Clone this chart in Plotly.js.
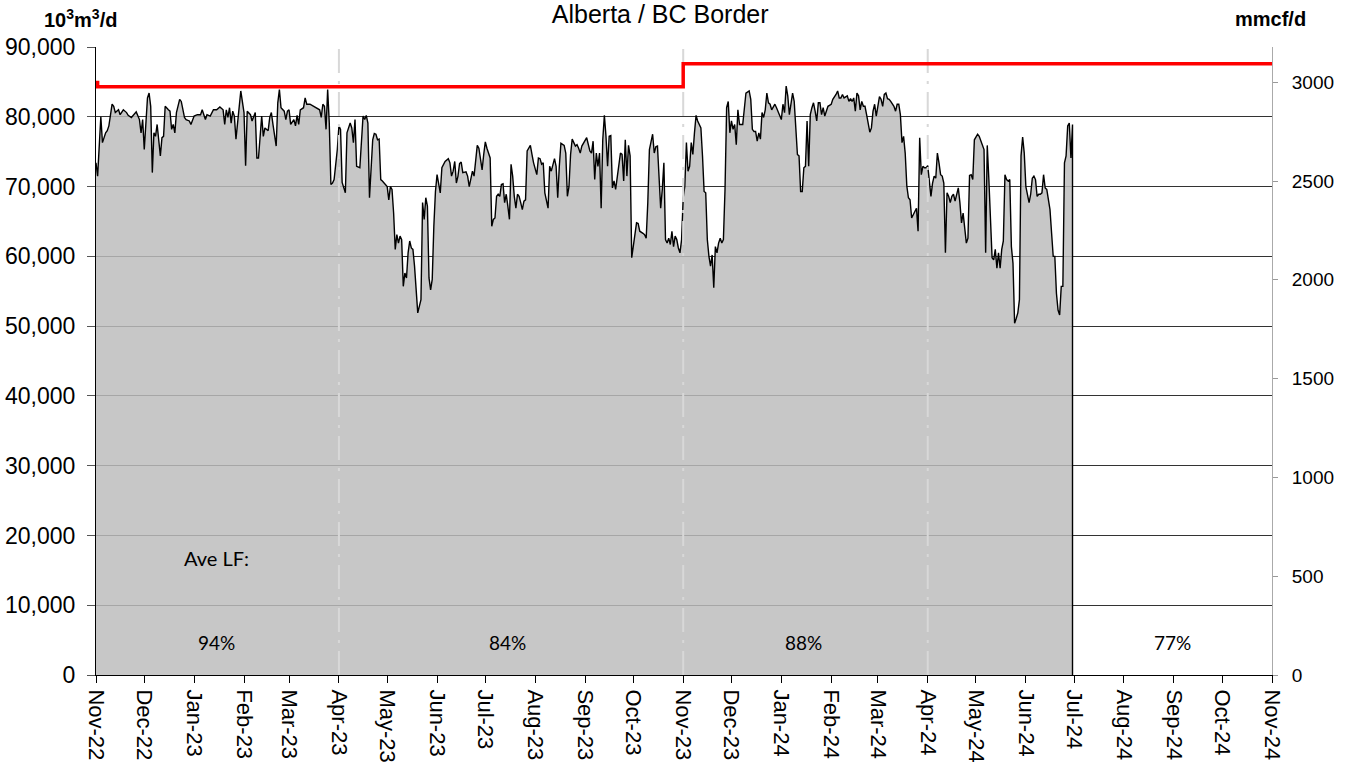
<!DOCTYPE html>
<html>
<head>
<meta charset="utf-8">
<script src="https://cdn.plot.ly/plotly-3.0.1.min.js"></script>
<style>html,body{margin:0;padding:0;background:#fff;}#chart{width:1350px;height:767px;}</style>
</head>
<body>
<div id="chart"></div>
<script>
// Day offsets from 2022-11-01 and daily flow (thousand 10^3m3/d)
const startDate = '2022-11-01';
const flowDays = [
0,1,3,4,6,7,8,10,11,12,14,15,17,19,20,22,25,27,28,29,30,32,33,34,35,36,37,38,40,41,42,43,45,46,47,48,49,50,52,53,55,56,58,59,61,63,65,66,68,69,71,73,75,77,79,80,81,82,83,84,85,86,87,89,90,92,93,94,96,97,99,100,101,103,104,105,107,108,109,110,112,113,114,115,117,118,119,120,121,123,124,125,126,127,129,130,131,133,135,137,139,140,141,142,143,144,145,146,147,148,150,151,152,153,155,156,158,
159,160,161,162,164,166,167,168,169,170,172,173,174,175,176,177,178,180,181,182,183,184,185,186,187,188,189,190,191,192,193,194,195,196,197,198,199,200,202,203,204,205,206,207,208,209,210,211,212,213,214,215,216,217,219,220,221,222,223,224,225,226,227,228,230,231,232,233,234,235,237,238,240,241,242,243,245,246,247,248,249,250,251,252,253,254,255,256,257,258,259,260,261,262,263,264,265,266,267,268,270,271,272,274,275,276,277,278,279,281,282,283,284,285,286,287,288,289,291,292,293,294,295,296,298,299,300,301,302,304,305,307,
308,309,310,311,312,313,314,315,316,317,318,319,320,321,322,323,325,326,327,328,329,330,331,332,333,335,336,337,338,340,341,342,343,344,346,347,348,349,350,351,352,353,354,355,356,357,358,359,360,361,362,363,364,365,366,367,368,369,370,371,372,373,374,376,377,378,379,380,381,382,383,384,385,386,387,388,389,390,391,392,393,394,395,396,397,398,399,400,402,403,404,406,407,408,409,410,411,412,413,414,415,416,417,418,419,420,422,423,424,426,427,428,429,430,431,432,433,434,435,436,437,438,439,440,441,442,443,444,445,446,447,448,449,450,451,452,453,454,455,457,458,460,461,462,
463,464,465,467,468,469,470,471,472,473,474,475,476,477,478,479,480,481,482,483,484,485,486,487,488,489,490,491,492,493,494,496,497,498,499,500,501,502,503,504,505,506,507,508,509,510,511,512,513,514,515,516,517,518,519,520,521,522,523,524,525,526,527,528,529,530,531,532,533,534,535,536,537,538,539,540,541,542,543,544,545,546,547,548,549,550,551,552,553,554,555,556,557,558,559,560,561,562,563,564,565,566,567,568,569,570,571,572,573,574,575,576,577,578,579,580,581,582,583,584,585,586,587,588,589,590,591,592,593,594,595,596,597,598,599,600,601,602,603,604,605,606,607
];
const flowThousands = [
73.4,71.5,80.0,76.3,77.7,78.0,78.7,81.8,81.5,80.6,81.0,80.3,81.0,80.6,80.2,79.9,80.7,79.6,77.7,79.6,75.3,82.7,83.4,81.5,72.0,77.7,77.2,78.9,74.4,77.0,77.2,81.5,81.0,80.8,78.2,78.9,77.7,80.6,82.5,82.2,79.9,79.6,79.4,78.9,80.1,80.3,80.3,81.0,79.6,80.3,80.1,81.0,81.0,81.4,81.0,78.9,81.0,79.9,81.3,79.1,80.8,80.1,76.8,82.2,83.7,80.6,73.0,80.8,80.3,79.4,80.6,74.1,74.1,80.1,77.2,78.4,78.0,79.9,80.6,78.9,75.8,82.0,83.9,81.3,80.8,79.6,80.8,81.0,78.9,79.6,78.7,80.2,78.9,81.0,81.3,82.7,81.8,81.8,81.5,81.3,81.0,79.9,81.8,81.5,78.2,83.9,79.1,70.3,70.5,71.0,75.3,78.7,78.2,70.6,69.1,77.7,79.1,
78.4,76.3,79.6,72.9,72.7,80.1,79.6,80.2,79.1,68.4,76.7,77.6,77.5,76.7,76.8,71.0,70.8,70.3,70.0,68.1,70.0,69.6,66.2,61.0,63.1,61.9,62.9,62.4,55.7,57.6,56.9,60.5,62.2,61.2,61.0,58.6,54.7,51.9,53.8,67.7,65.3,68.4,67.2,56.9,55.2,56.7,64.3,69.3,71.7,70.5,69.1,72.7,73.2,73.6,74.0,73.4,71.5,72.2,73.6,70.5,71.5,73.3,73.5,72.0,72.1,71.5,70.0,71.2,72.2,71.5,75.9,75.5,72.4,74.6,76.4,75.5,74.1,64.3,65.3,65.5,68.6,68.9,68.6,70.3,70.4,67.7,68.9,67.2,65.3,73.2,71.5,68.6,66.9,68.9,68.6,67.7,66.7,67.9,68.1,75.1,75.9,74.6,73.4,71.7,74.1,74.0,73.2,73.4,69.1,66.9,72.9,72.2,73.2,74.0,72.9,68.4,72.9,76.2,75.9,74.8,68.6,70.0,74.6,76.8,75.8,76.0,75.5,74.8,75.8,76.5,77.0,75.1,
74.8,76.5,71.0,74.8,72.9,74.8,66.9,76.7,80.2,77.2,72.9,77.2,77.3,69.8,70.8,69.6,72.9,74.8,74.6,70.8,76.7,71.5,75.9,74.4,59.8,63.3,64.8,64.7,63.6,63.3,63.1,62.6,67.7,75.3,77.5,74.8,75.7,75.8,71.0,66.9,69.6,73.4,62.4,61.9,62.6,61.7,63.6,61.4,62.9,62.4,61.2,60.5,62.4,68.4,70.0,76.3,72.2,72.9,76.3,74.6,77.7,80.2,79.4,78.4,74.4,69.3,69.1,62.4,60.0,58.6,60.2,55.5,61.4,60.5,61.9,62.6,61.9,62.4,69.6,81.3,82.2,77.7,79.4,78.2,78.9,76.0,81.0,78.9,78.9,80.8,83.4,83.7,82.5,78.2,77.9,77.9,76.5,77.7,76.8,80.6,79.9,81.0,83.4,82.0,81.8,81.0,81.8,81.3,80.8,79.6,81.8,80.6,84.4,83.0,80.3,82.2,83.4,82.2,78.7,74.6,74.4,69.3,69.3,72.7,72.9,79.4,72.9,80.3,81.3,82.0,80.8,79.4,82.0,82.0,80.3,81.3,80.1,81.0,81.5,81.8,82.5,83.2,83.7,82.7,
82.7,83.2,82.7,83.0,82.2,82.6,82.2,82.7,80.8,83.4,83.0,81.0,82.2,81.5,81.5,80.3,78.7,77.8,78.4,80.8,81.8,80.1,81.5,82.9,82.5,81.5,83.2,83.4,82.6,82.5,82.2,81.5,80.8,81.8,81.8,80.3,76.3,77.2,74.8,70.1,68.4,68.1,65.5,66.0,66.5,66.9,63.6,77.0,71.7,72.9,72.7,72.7,73.0,71.0,68.6,70.5,71.5,71.2,74.8,73.4,71.7,71.5,70.5,60.5,69.1,68.6,67.7,68.6,68.9,67.9,68.9,69.8,67.7,64.8,66.2,64.3,61.9,62.6,71.6,71.7,71.0,76.7,77.2,77.5,77.2,76.5,75.9,75.3,60.5,75.9,71.0,63.8,59.8,59.5,61.0,58.3,60.5,58.3,61.0,62.2,71.7,71.0,70.8,71.0,61.4,59.0,50.4,51.1,51.9,53.8,74.4,77.1,74.8,70.0,68.6,67.7,68.9,71.2,71.5,71.0,68.6,68.9,68.9,69.1,71.7,69.8,69.6,68.4,66.7,63.3,60.0,60.0,54.7,52.3,51.6,55.7,55.7,73.4,74.4,78.7,79.1,74.1,78.9
];
// Capacity (10^3m3/d), step line
const capDates = ['2022-11-01','2022-11-02','2023-11-01','2024-11-01'];
const capValues = [84900, 84300, 87600, 87600];
// Season boundaries and average load factors
const seasonStarts = ['2023-04-01','2023-11-01','2024-04-01'];
const lfLabelDates = ['2023-01-15','2023-07-15','2024-01-15','2024-08-31'];
const lfValues = [94, 84, 88, 77];
const lfHeading = 'Ave LF:';
const xRange = ['2022-11-01','2024-11-01'];
const Y_MAX = 90000;
const M3_PER_MCF = 28.3168; // 10^3 m3 per mmcf

function dayToDate(d){
  const t = Date.UTC(2022,10,1) + d*86400000;
  return new Date(t).toISOString().slice(0,10);
}
const flowDates = flowDays.map(dayToDate);
const flowVals = flowThousands.map(v => v*1000);

const FONT = 'Liberation Sans, Arial, sans-serif';
const LFFONT = 'Lato, Open Sans, sans-serif';

const traces = [
  {
    x: flowDates.concat([flowDates[flowDates.length-1]]),
    y: flowVals.concat([0]),
    type: 'scatter', mode: 'lines',
    fill: 'tozeroy', fillcolor: 'rgba(188,188,188,0.84)',
    line: {color: '#000', width: 1.4},
    hoverinfo: 'skip', showlegend: false
  },
  {
    x: seasonStarts.flatMap(d => [d, d, null]),
    y: seasonStarts.flatMap(() => [0, Y_MAX, null]),
    type: 'scatter', mode: 'lines',
    line: {color: '#d8d8d8', width: 2, dash: '24px,8px,3px,8px'},
    hoverinfo: 'skip', showlegend: false
  },
  {
    x: capDates, y: capValues,
    type: 'scatter', mode: 'lines',
    line: {color: '#ff0000', width: 3.5, shape: 'hv'},
    hoverinfo: 'skip', showlegend: false
  },
  {
    x: capDates, y: capValues.map(v => v / M3_PER_MCF),
    yaxis: 'y2', type: 'scatter', mode: 'lines',
    line: {width: 0}, opacity: 0,
    hoverinfo: 'skip', showlegend: false
  }
];

const annotations = [
  {text: '<b>10<sup>3</sup>m<sup>3</sup>/d</b>', xref: 'paper', yref: 'paper', x: -0.0136, y: 1.046,
   xanchor: 'center', yanchor: 'middle', showarrow: false,
   font: {family: FONT, size: 20, color: '#000'}},
  {text: '<b>mmcf/d</b>', xref: 'paper', yref: 'paper', x: 0.999, y: 1.044,
   xanchor: 'center', yanchor: 'middle', showarrow: false,
   font: {family: FONT, size: 20, color: '#000'}},
  {text: lfHeading, xref: 'x', yref: 'y', x: lfLabelDates[0], y: 16700,
   xanchor: 'center', yanchor: 'middle', showarrow: false,
   font: {family: LFFONT, size: 20, color: '#000'}}
].concat(lfValues.map((v, i) => ({
  text: v + '%', xref: 'x', yref: 'y', x: lfLabelDates[i], y: 4600,
  xanchor: 'center', yanchor: 'middle', showarrow: false,
  font: {family: LFFONT, size: 19, color: '#000'}
})));

const layout = {
  width: 1350, height: 767,
  margin: {l: 96, r: 78, t: 47, b: 92, pad: 0},
  paper_bgcolor: '#fff', plot_bgcolor: '#fff',
  font: {family: FONT, color: '#000'},
  title: {text: 'Alberta / BC Border', font: {family: FONT, size: 25, color: '#000'},
          x: 0.489, xref: 'container', xanchor: 'center', y: 0.981, yref: 'container', yanchor: 'middle'},
  xaxis: {
    type: 'date', range: xRange, tick0: xRange[0], dtick: 'M1', tickformat: '%b-%y',
    tickangle: 90, ticks: 'outside', ticklen: 7, tickcolor: '#000', tickwidth: 1,
    showline: true, linecolor: '#000', linewidth: 1, showgrid: false, zeroline: false,
    ticklabelstandoff: 2,
    tickfont: {family: FONT, size: 22, color: '#000'}
  },
  yaxis: {
    range: [0, Y_MAX], dtick: 10000, tick0: 0, tickformat: ',d',
    ticks: 'outside', ticklen: 8, tickcolor: '#555', showline: true, linecolor: '#000', linewidth: 1,
    showgrid: true, gridcolor: '#333', gridwidth: 1, zeroline: false,
    ticklabelstandoff: 7,
    tickfont: {family: FONT, size: 23, color: '#000'}
  },
  yaxis2: {
    overlaying: 'y', side: 'right', range: [0, Y_MAX / M3_PER_MCF], dtick: 500, tick0: 0,
    ticks: 'outside', ticklen: 5, tickcolor: '#999', showline: true, linecolor: '#aaa', linewidth: 1,
    showgrid: false, zeroline: false,
    ticklabelstandoff: 10,
    tickfont: {family: FONT, size: 19, color: '#000'}
  },
  annotations: annotations,
  showlegend: false
};

Plotly.newPlot('chart', traces, layout, {displayModeBar: false, staticPlot: true});
</script>
</body>
</html>
